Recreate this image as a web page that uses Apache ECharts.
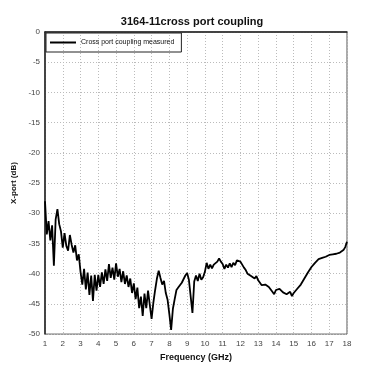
<!DOCTYPE html>
<html><head><meta charset="utf-8">
<script src="https://cdn.jsdelivr.net/npm/echarts@6/dist/echarts.min.js"></script>
<style>html,body{margin:0;padding:0;background:#fff}#c{width:384px;height:367px}</style>
</head><body><div id="c"></div>
<script>
const chartTitle = "3164-11cross port coupling";
const seriesName = "Cross port coupling measured";
const xName = "Frequency (GHz)";
const yName = "X-port (dB)";
const startGHz = 1.0, stepGHz = 0.1;
// measured coupling (dB), one value per 0.1 GHz from 1.0 to 18.0 GHz
const couplingDb = [
 -28,-33.5,-31.3,-34.5,-32,-38.7,-31,-29.3,-31.8,-33,
 -35.7,-33.3,-35.4,-36.2,-33.6,-35.2,-36.5,-35.3,-37.8,-36.8,
 -39.7,-41.8,-39.2,-42.6,-39.8,-43.5,-40.3,-44.5,-40.2,-42.8,
 -40.2,-42.2,-39.8,-41.7,-39.3,-41.2,-38.4,-40.7,-39,-41,
 -38.3,-40.5,-39.2,-41.4,-39.6,-41.7,-40.3,-42.2,-40.8,-43.2,
 -41.6,-44.2,-42.3,-45.7,-43.8,-47,-43.3,-45.7,-42.8,-45.2,
 -47.5,-44.8,-42.7,-40.8,-39.5,-40.7,-41.8,-41.2,-43.2,-44.3,
 -46.7,-49.3,-45.8,-44.2,-42.7,-42.3,-42.2,-41.5,-41.6,-40.3,
 -39.9,-41,-41.3,-46.5,-41.3,-40.3,-41.2,-40,-41,-40.6,
 -39.7,-38.2,-39.2,-38.5,-39.1,-38.5,-38.8,-38,-37.5,-38,
 -38.4,-39.2,-38.5,-39,-38.3,-38.9,-38.2,-38.6,-37.8,-37.5,
 -38,-37.9,-39,-39.4,-40,-40,-40.4,-40.2,-40.8,-40.4,
 -41.1,-41.2,-41.9,-41.6,-41.8,-41.8,-42.2,-42,-43,-43.4,
 -42.7,-42.8,-42.5,-42.6,-43.1,-42.9,-43.4,-43.6,-43,-43.7,
 -43.2,-43.1,-42.5,-42.4,-41.8,-41.8,-40.8,-40.8,-39.8,-39.6,
 -38.9,-38.8,-38.2,-38.1,-37.6,-37.8,-37.4,-37.5,-37.2,-37.3,
 -36.9,-37.2,-36.8,-37,-36.7,-36.9,-36.5,-36.4,-36.1,-35.6,
 -34.7
];
const points = couplingDb.map((v, i) => [+(startGHz + i * stepGHz).toFixed(2), v]);

const chart = echarts.init(document.getElementById('c'), null, {renderer: 'canvas'});
const font = '"Liberation Sans", Arial, sans-serif';
chart.setOption({
  animation: false,
  backgroundColor: '#fff',
  title: {
    text: chartTitle, left: 'center', top: 11,
    textStyle: {fontFamily: font, fontSize: 11, fontWeight: 'bold', color: '#111'}
  },
  legend: {
    left: 46, top: 33, orient: 'vertical',
    data: [seriesName],
    borderColor: '#222', borderWidth: 1, borderRadius: 0,
    padding: [6, 7, 6, 4],
    itemWidth: 26, itemHeight: 2, itemGap: 0,
    icon: 'rect',
    textStyle: {fontFamily: font, fontSize: 7, color: '#111'}
  },
  grid: {left: 45, top: 32, width: 302, height: 304, show: true, borderColor: '#555', borderWidth: 1},
  xAxis: {
    type: 'value', min: 1, max: 18, interval: 1,
    name: xName, nameLocation: 'middle', nameGap: 15,
    nameTextStyle: {fontFamily: font, fontSize: 9, fontWeight: 'bold', color: '#111'},
    axisLine: {show: true, lineStyle: {color: '#222', width: 1.5}},
    axisTick: {show: false},
    axisLabel: {fontFamily: font, fontSize: 8, color: '#444', margin: 6},
    splitLine: {show: true, lineStyle: {color: '#bbb', type: [1, 2], width: 1}}
  },
  yAxis: {
    type: 'value', min: -50, max: 0, interval: 5,
    name: yName, nameLocation: 'middle', nameGap: 19,
    nameTextStyle: {fontFamily: font, fontSize: 8, fontWeight: 'bold', color: '#111'},
    axisLine: {show: true, onZero: false, lineStyle: {color: '#222', width: 1.5}},
    axisTick: {show: false},
    axisLabel: {fontFamily: font, fontSize: 8, color: '#444', margin: 5},
    splitLine: {show: true, lineStyle: {color: '#bbb', type: [1, 2], width: 1}}
  },
  series: [{
    name: seriesName, type: 'line', data: points,
    showSymbol: false, symbol: 'none',
    lineStyle: {color: '#000', width: 1.8},
    itemStyle: {color: '#000'}
  }]
});
</script></body></html>
